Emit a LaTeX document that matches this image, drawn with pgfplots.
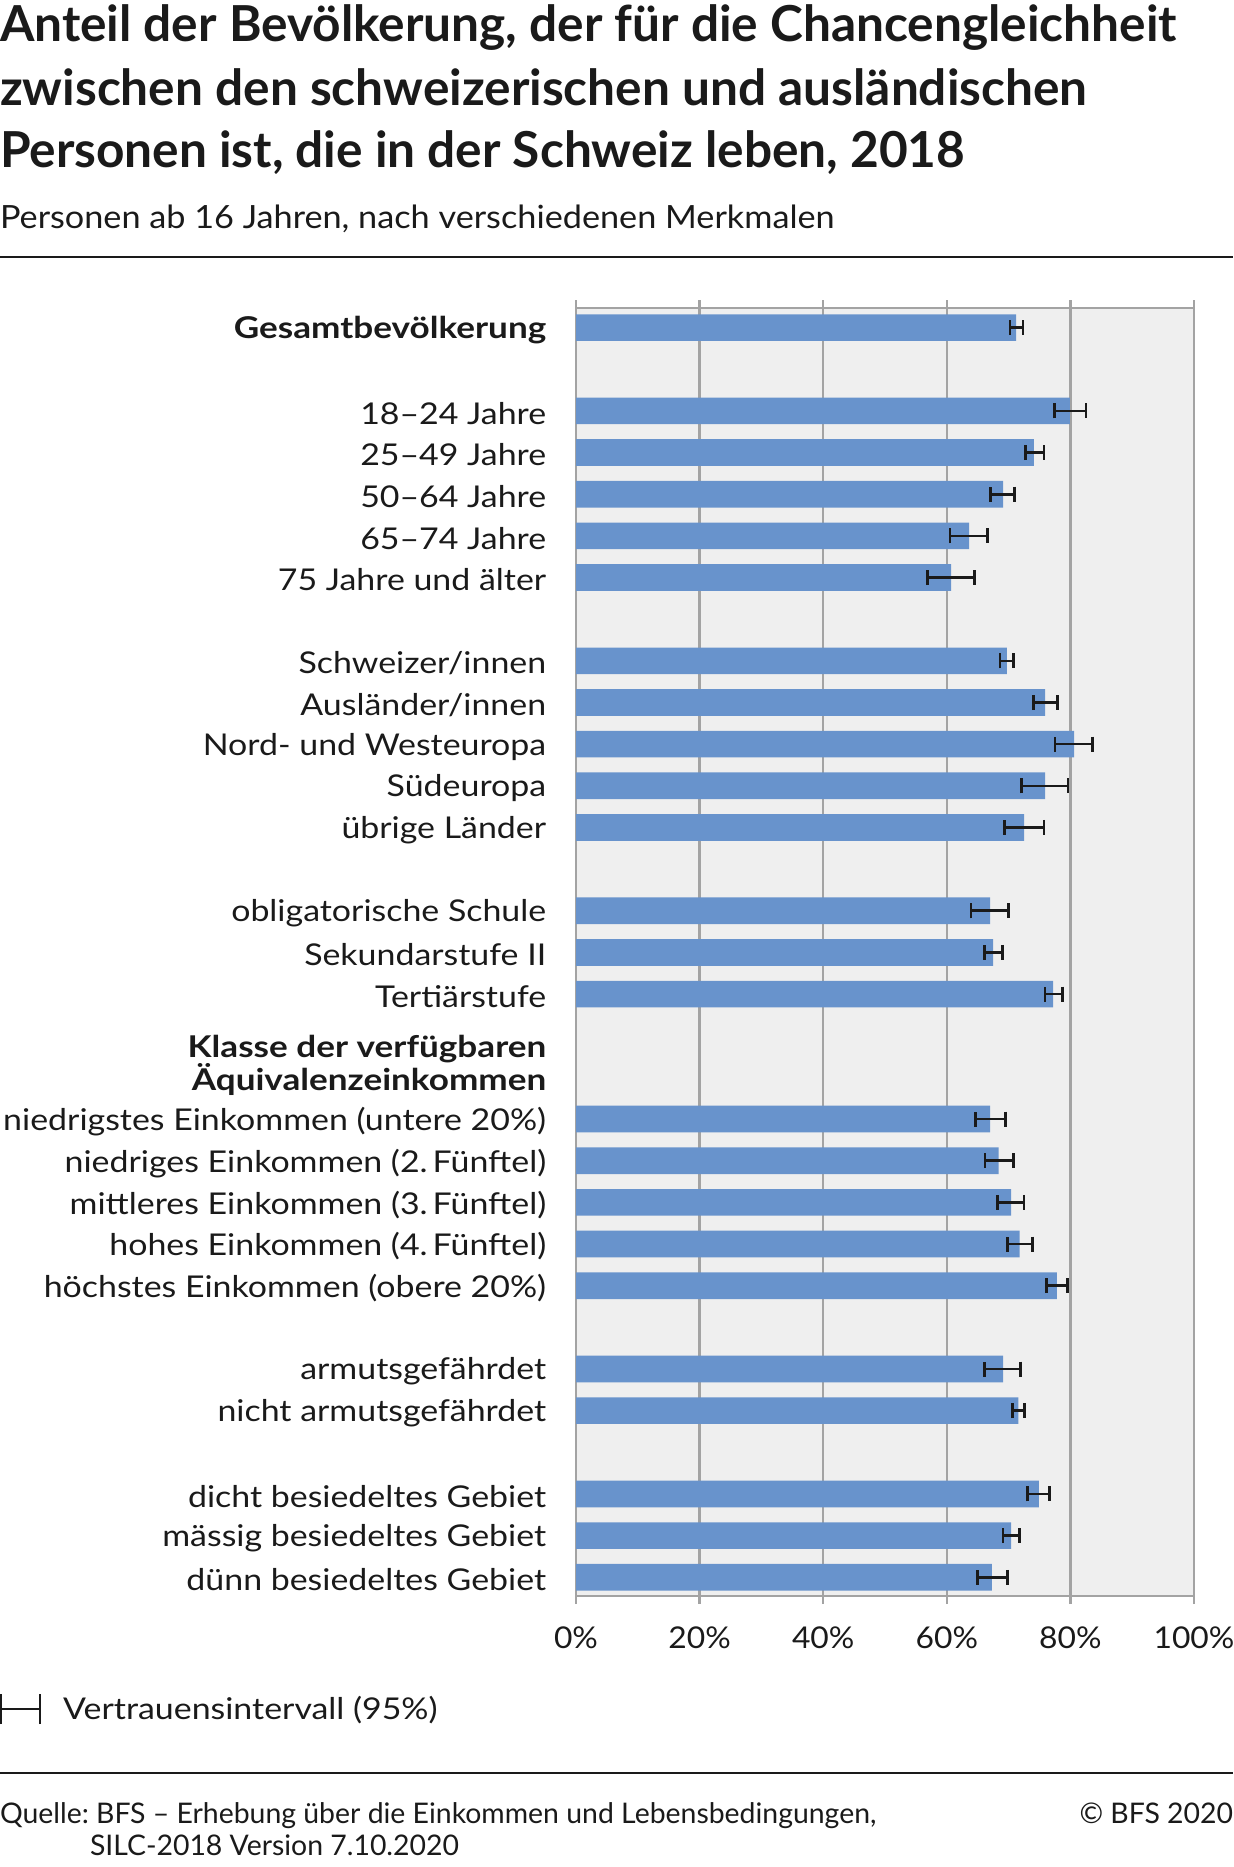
\documentclass[border=0pt]{standalone}
\usepackage{fontspec}
\setmainfont{Lato}
\newfontfamily\lblfam{Lato}[FakeStretch=1.13, BoldFeatures={FakeStretch=1.17}]
\newfontfamily\tickfam{Lato}[FakeStretch=1.06]
\newfontfamily\subfam{Lato}[FakeStretch=1.07]
\usepackage{pgfplots}
\pgfplotsset{compat=1.18}
\usepackage{pgfplotstable}
\definecolor{barblue}{RGB}{104,147,204}
\definecolor{gridgray}{RGB}{163,163,163}
\definecolor{bggray}{RGB}{239,239,239}
\definecolor{txt}{RGB}{26,26,26}
\frenchspacing

\pgfplotstableread{
row v em ep
0 71.2 1.0 1.1
2 79.9 2.5 2.6
3 74.1 1.4 1.6
4 69.1 2.0 1.9
5 63.6 3.1 3.0
6 60.7 3.8 3.8
8 69.7 1.1 1.1
9 75.9 1.9 2.0
10 80.6 3.1 3.0
11 75.9 3.8 3.7
12 72.5 3.2 3.2
14 67.0 3.1 3.0
15 67.5 1.4 1.5
16 77.2 1.3 1.5
19 67.0 2.4 2.5
20 68.4 2.2 2.4
21 70.4 2.2 2.1
22 71.8 2.0 2.1
23 77.8 1.7 1.7
25 69.1 3.0 2.8
26 71.6 1.0 1.0
28 74.9 1.8 1.7
29 70.4 1.3 1.4
30 67.3 2.3 2.5
}\data

\newcommand{\lblfont}{\lblfam\fontsize{15}{16.5}\selectfont}
\newcommand{\tickfont}{\tickfam\fontsize{15}{16.5}\selectfont}

\begin{document}
\begin{tikzpicture}
\path[use as bounding box] (0,0) rectangle (616.5pt,-933.5pt);
\begin{scope}[every node/.style={inner sep=0pt, outer sep=0pt, text=txt}]
\node[anchor=base west, font=\fontsize{24.8}{30}\selectfont\bfseries] at (0,-21pt) {Anteil der Bevölkerung, der für die Chancengleichheit};
\node[anchor=base west, font=\fontsize{24.8}{30}\selectfont\bfseries] at (0,-53pt) {zwischen den schweizerischen und ausländischen};
\node[anchor=base west, font=\fontsize{24.8}{30}\selectfont\bfseries] at (0,-84pt) {Personen ist, die in der Schweiz leben, 2018};
\node[anchor=base west, font=\subfam\fontsize{16}{19}\selectfont] at (0,-114pt) {Personen ab 16 Jahren, nach verschiedenen Merkmalen};
\node[anchor=base west, font=\fontsize{14.2}{17}\selectfont] at (0,-911.5pt) {Quelle: BFS – Erhebung über die Einkommen und Lebensbedingungen,};
\node[anchor=base west, font=\fontsize{14.2}{17}\selectfont] at (45pt,-927.5pt) {SILC-2018 Version 7.10.2020};
\node[anchor=base east, font=\fontsize{14.2}{17}\selectfont] at (616.5pt,-911.5pt) {© BFS 2020};
\end{scope}
\draw[line width=1.2pt, color=txt] (0,-128.5pt) -- (616.5pt,-128.5pt);
\draw[line width=1.2pt, color=txt] (0,-886.5pt) -- (616.5pt,-886.5pt);

\begin{axis}[
  at={(288pt,-154pt)}, anchor=north west,
  scale only axis, width=309pt, height=644pt,
  xmin=0, xmax=100, ymin=-0.47, ymax=30.45, y dir=reverse,
  axis background/.style={fill=bggray},
  axis line style={gridgray, line width=1.2pt},
  xmajorgrids, grid style={gridgray, line width=1.2pt},
  xtick={0,20,40,60,80,100},
  xticklabel={\pgfmathprintnumber{\tick}\%},
  /pgf/number format/assume math mode=true,
  xtick style={gridgray, line width=1.2pt},
  tick align=outside, major tick length=4pt,
  xticklabel style={font=\tickfont, text=txt, anchor=center, inner sep=0pt, yshift=-16.75pt},
  ytick={0,2,3,4,5,6,8,9,10,11,12,14,15,16,17.65,19,20,21,22,23,25,26,28,29,30},
  yticklabels={
    \textbf{Gesamtbevölkerung},
    18–24 Jahre, 25–49 Jahre, 50–64 Jahre, 65–74 Jahre, 75 Jahre und älter,
    Schweizer/innen, Ausländer/innen, Nord- und Westeuropa, Südeuropa, übrige Länder,
    obligatorische Schule, Sekundarstufe II, Tertiärstufe,
    {\textbf{Klasse der verfügbaren}\\\textbf{Äquivalenzeinkommen}},
    niedrigstes Einkommen (untere 20\%), niedriges Einkommen (2.\,Fünftel),
    mittleres Einkommen (3.\,Fünftel), hohes Einkommen (4.\,Fünftel),
    höchstes Einkommen (obere 20\%),
    armutsgefährdet, nicht armutsgefährdet,
    dicht besiedeltes Gebiet, mässig besiedeltes Gebiet, dünn besiedeltes Gebiet},
  ytick style={draw=none},
  yticklabel style={font=\lblfont, text=txt, anchor=east, align=right, inner sep=0pt, xshift=-10.7pt, yshift=-1.2pt},
  legend style={at={(-0.932,-0.0877)}, anchor=west, draw=none, fill=none,
    inner sep=0pt, outer sep=0pt, font=\lblfont, text=txt,
    nodes={inner sep=0pt}, /tikz/every odd column/.append style={column sep=11pt}},
  clip=false,
]
\addlegendimage{legend image code/.code={\draw[line width=1.2pt, txt] (0.6pt,-7.5pt)--(0.6pt,7.5pt) (0.6pt,0pt)--(20pt,0pt) (20pt,-7.5pt)--(20pt,7.5pt);}}
\addlegendentry{Vertrauensintervall (95\%)}
\addplot[xbar, bar width=0.64, fill=barblue, draw=none, forget plot,
  error bars/.cd, x dir=both, x explicit, error mark=|,
  error bar style={line width=1.3pt, txt},
  error mark options={line width=1.3pt, mark size=3.75pt, txt}]
  table[x=v, y=row, x error plus=ep, x error minus=em]{\data};
\end{axis}
\end{tikzpicture}
\end{document}
